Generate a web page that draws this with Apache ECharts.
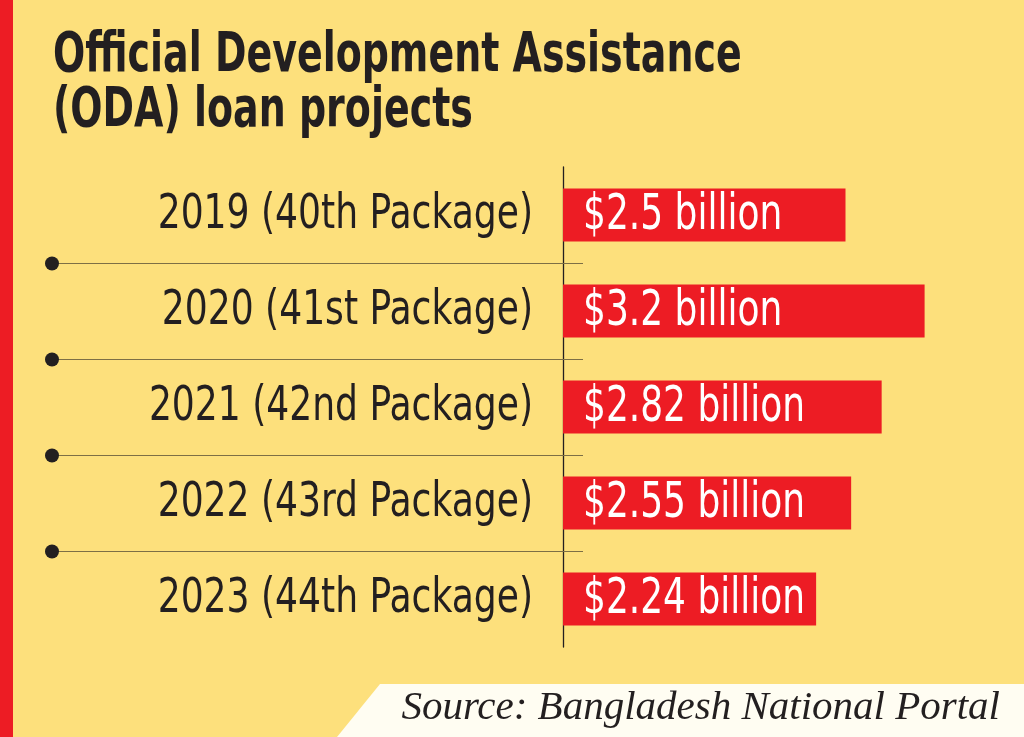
<!DOCTYPE html>
<html>
<head>
<meta charset="utf-8">
<style>
html,body{margin:0;padding:0;background:#FDE07C;}
#chart{width:1024px;height:737px;}
</style>
<script src="https://cdn.jsdelivr.net/npm/echarts@6/dist/echarts.min.js"></script>
</head>
<body>
<div id="chart"></div>
<script>
var categories = ['2019 (40th Package)', '2020 (41st Package)', '2021 (42nd Package)', '2022 (43rd Package)', '2023 (44th Package)'];
var values = [2.5, 3.2, 2.82, 2.55, 2.24];
var valueLabels = ['$2.5 billion', '$3.2 billion', '$2.82 billion', '$2.55 billion', '$2.24 billion'];
var titleLines = ['Official Development Assistance', '(ODA) loan projects'];
var sourceText = 'Source: Bangladesh National Portal';

var COND = "'DejaVu Sans Condensed', 'DejaVu Sans', sans-serif";
var DARK = '#231F20';
var RED = '#ED1C24';

var chart = echarts.init(document.getElementById('chart'), null, {renderer: 'canvas'});
chart.setOption({
  backgroundColor: '#FDE07C',
  animation: false,
  grid: {left: 563, top: 167, height: 480, right: 9, containLabel: false},
  xAxis: {type: 'value', min: 0, max: 4, show: false},
  yAxis: {
    type: 'category', inverse: true, data: categories,
    axisLine: {show: true, lineStyle: {color: DARK, width: 1.3}},
    axisTick: {show: false},
    splitLine: {show: false},
    axisLabel: {show: false}
  },
  series: [{
    type: 'bar', data: values, barWidth: 53,
    itemStyle: {color: RED},
    label: {show: false}
  }]
});

var g = [];
g.push({type: 'rect', shape: {x: 0, y: 0, width: 13, height: 737}, style: {fill: RED}, z: 10});
// title (condensed by horizontal scaling)
for (var t = 0; t < titleLines.length; t++) {
  g.push({type: 'text', x: 53, y: 57 + t * 55, scaleX: 0.767, z: 6,
    style: {text: titleLines[t], font: "bold 55px " + COND, fill: DARK, align: 'left', verticalAlign: 'middle', textAlign: 'left', textVerticalAlign: 'middle'}});
}
// category labels and value labels positioned by the axes
for (var i = 0; i < categories.length; i++) {
  var yc = chart.convertToPixel({yAxisIndex: 0}, categories[i]);
  var x0 = chart.convertToPixel({xAxisIndex: 0}, 0);
  g.push({type: 'text', x: x0 - 30, y: yc + 1, scaleX: 0.836, z: 6,
    style: {text: categories[i], font: "48px " + COND, fill: DARK, align: 'right', verticalAlign: 'middle', textAlign: 'right', textVerticalAlign: 'middle'}});
  g.push({type: 'text', x: x0 + 20, y: yc + 1, scaleX: 0.80, z: 6,
    style: {text: valueLabels[i], font: "50px " + COND, fill: '#FFFFFF', align: 'left', verticalAlign: 'middle', textAlign: 'left', textVerticalAlign: 'middle'}});
  if (i < categories.length - 1) {
    var yn = chart.convertToPixel({yAxisIndex: 0}, categories[i + 1]);
    var y = Math.round((yc + yn) / 2) + 0.5;
    g.push({type: 'line', shape: {x1: 52, y1: y, x2: 583, y2: y}, style: {stroke: '#7d6f45', lineWidth: 1.2}, z: 5});
    g.push({type: 'circle', shape: {cx: 52, cy: y, r: 7}, style: {fill: DARK}, z: 6});
  }
}
g.push({type: 'polygon', shape: {points: [[380, 684], [1024, 684], [1024, 737], [337, 737]]}, style: {fill: '#FFFDF2'}, z: 5});
g.push({type: 'text', right: 24, top: 688, style: {text: sourceText, font: "italic 41px 'Liberation Serif', 'DejaVu Serif', serif", fill: DARK}, z: 6});
chart.setOption({graphic: g});
</script>
</body>
</html>
